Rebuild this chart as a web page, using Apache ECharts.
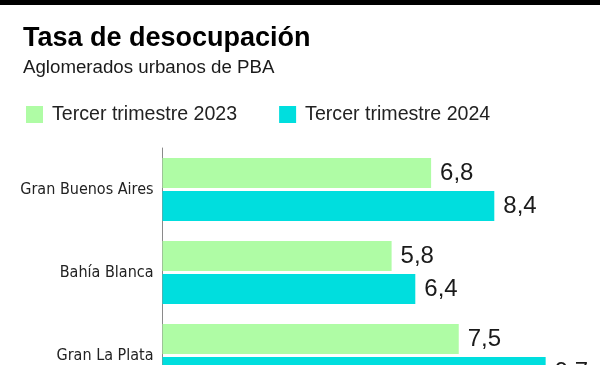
<!DOCTYPE html>
<html>
<head>
<meta charset="utf-8">
<script src="https://cdn.jsdelivr.net/npm/echarts@6/dist/echarts.min.js"></script>
<style>
html,body{margin:0;padding:0;background:#fff;overflow:hidden;}
#chart{width:600px;height:400px;}
</style>
</head>
<body>
<div id="chart"></div>
<script>
var categories = ['Gran Buenos Aires', 'Bahía Blanca', 'Gran La Plata'];
var seriesNames = ['Tercer trimestre 2023', 'Tercer trimestre 2024'];
var values2023 = [6.8, 5.8, 7.5];
var values2024 = [8.4, 6.4, 9.7];

var chart = echarts.init(document.getElementById('chart'), null, {renderer: 'canvas'});
var fmt = function (p) { return String(p.value).replace('.', ','); };
var labelFont = "'Liberation Sans', Arial, sans-serif";
var option = {
  backgroundColor: '#ffffff',
  animation: false,
  graphic: [
    {type: 'rect', left: 0, top: 0, shape: {x: 0, y: 0, width: 600, height: 5}, style: {fill: '#000000'}}
  ],
  title: [
    {text: 'Tasa de desocupación', left: 23, top: 25.5, padding: 0,
     textStyle: {fontFamily: labelFont, fontWeight: 'bold', fontSize: 27, color: '#000000'}},
    {text: 'Aglomerados urbanos de PBA', left: 23, top: 58.5, padding: 0,
     textStyle: {fontFamily: labelFont, fontWeight: 'normal', fontSize: 18.7, color: '#1a1a1a'}}
  ],
  legend: {
    left: 26, top: 104.5, padding: 0,
    itemWidth: 17, itemHeight: 17, itemGap: 42,
    icon: 'rect',
    data: seriesNames,
    textStyle: {fontFamily: labelFont, fontSize: 19.6, color: '#222222', padding: [0, 0, 0, 4]}
  },
  grid: {left: 162.5, top: 148, width: 434.5, height: 249, containLabel: false},
  xAxis: {type: 'value', min: 0, max: 11, show: false},
  yAxis: {
    type: 'category', data: categories, inverse: true,
    axisLine: {show: true, lineStyle: {color: '#8a8a8a', width: 1}},
    axisTick: {show: false},
    axisLabel: {fontFamily: "'DejaVu Sans Condensed', 'Liberation Sans', sans-serif", fontSize: 16, color: '#222222', margin: 9}
  },
  series: [
    {name: seriesNames[0], type: 'bar', data: values2023, barWidth: 30, barGap: '10%',
     itemStyle: {color: '#affca5'},
     label: {show: true, position: 'right', distance: 9, formatter: fmt,
             fontFamily: labelFont, fontSize: 24, color: '#1a1a1a'}},
    {name: seriesNames[1], type: 'bar', data: values2024, barWidth: 30, barGap: '10%',
     itemStyle: {color: '#00dede'},
     label: {show: true, position: 'right', distance: 9, formatter: fmt,
             fontFamily: labelFont, fontSize: 24, color: '#1a1a1a'}}
  ]
};
chart.setOption(option);
</script>
</body>
</html>
